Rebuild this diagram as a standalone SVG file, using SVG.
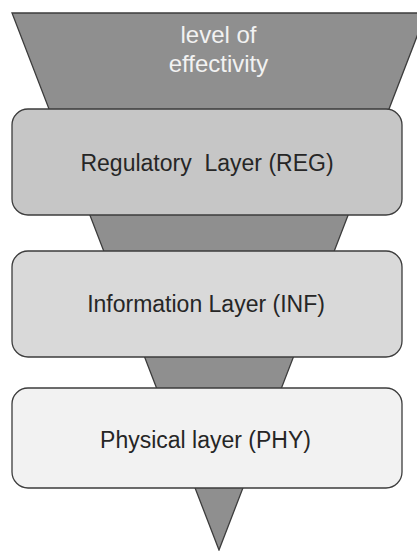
<svg xmlns="http://www.w3.org/2000/svg" width="417" height="551" viewBox="0 0 417 551">
  <style>
    .funnel { fill: #8f8f8f; stroke: #3c3c3c; stroke-width: 1.3; }
    .box { stroke: #3c3c3c; stroke-width: 1.3; }
    .lbl { font-family: "Liberation Sans", Arial, sans-serif; font-size: 23px; fill: #262626; text-anchor: middle; }
    .top { font-family: "Liberation Sans", Arial, sans-serif; font-size: 24px; fill: #f2f2f2; text-anchor: middle; }
  </style>
  <rect width="417" height="551" fill="#ffffff"/>
  <g id="funnel">
    <polygon class="funnel" points="12,13 426,13 219,550"/>
    <text class="top" x="218.5" y="43">level of</text>
    <text class="top" x="218.5" y="72">effectivity</text>
  </g>
  <g id="connectors"></g>
  <g id="reg">
    <rect class="box" x="12" y="109" width="390" height="106" rx="16" ry="16" fill="#c6c6c6"/>
    <text class="lbl" x="207" y="171" xml:space="preserve">Regulatory  Layer (REG)</text>
  </g>
  <g id="inf">
    <rect class="box" x="12" y="251" width="390" height="106" rx="16" ry="16" fill="#d9d9d9"/>
    <text class="lbl" x="206" y="312">Information Layer (INF)</text>
  </g>
  <g id="phy">
    <rect class="box" x="12" y="388" width="390" height="100" rx="16" ry="16" fill="#f2f2f2"/>
    <text class="lbl" x="205.5" y="448">Physical layer (PHY)</text>
  </g>
</svg>
